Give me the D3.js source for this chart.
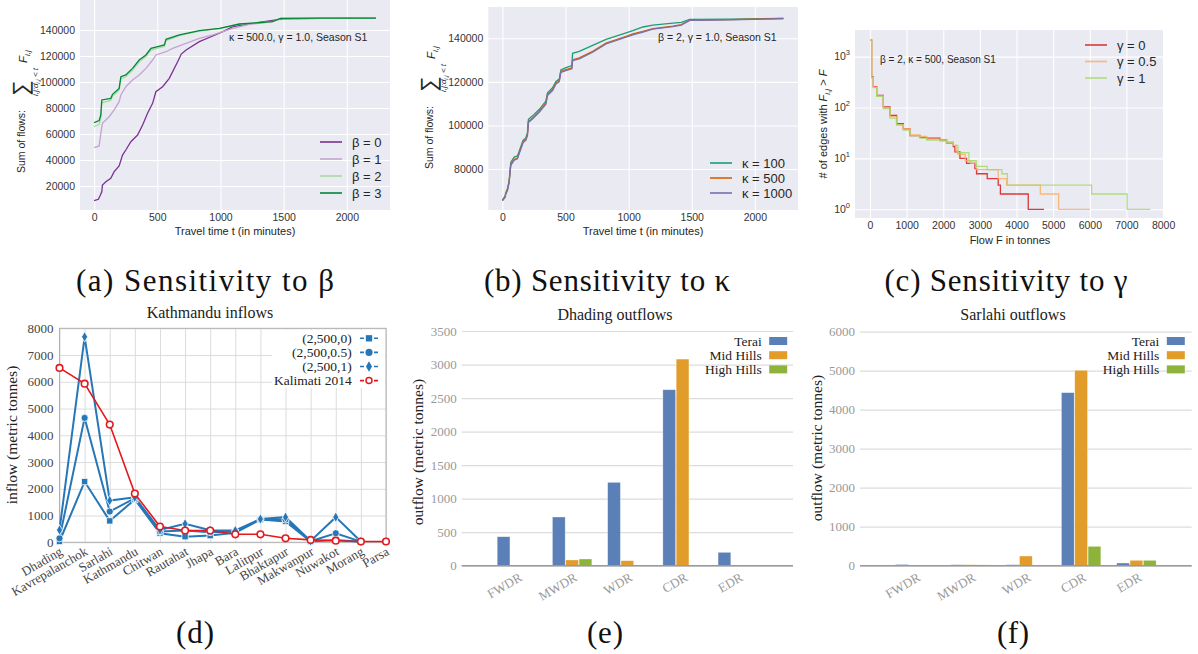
<!DOCTYPE html>
<html>
<head>
<meta charset="utf-8">
<script src="https://cdn.jsdelivr.net/npm/d3@7"></script>
<style>
body { margin: 0; background: #fff; }
svg { display: block; }
</style>
</head>
<body>
<svg id="fig" width="1198" height="654"></svg>
<script>
// ---- (a) sensitivity to beta: [travel time, cumulative flow]
var beta0 = [[0,8700],[34,9800],[50,13000],[61,15600],[66,20800],[93,23300],[132,25900],[159,31000],[198,35400],[225,43800],[251,47700],[291,54100],[344,59200],[384,66900],[423,75900],[463,83600],[489,92500],[542,96400],[595,102800],[661,115600],[690,121500],[728,124600],[833,131000],[939,135400],[1019,138700],[1098,142600],[1257,145100],[1494,148500],[1800,149000],[2230,149200]];
var beta1 = [[0,49500],[40,50800],[53,60500],[66,68200],[119,73300],[159,78500],[198,84900],[212,90000],[251,96400],[304,101500],[357,105400],[410,110500],[463,116900],[489,120800],[569,123300],[621,125900],[728,129700],[833,133600],[939,136200],[1098,141300],[1230,144400],[1410,146300],[1475,148800],[1800,149100],[2230,149200]];
var beta2 = [[0,65600],[40,67500],[53,72000],[61,84000],[132,85800],[146,89000],[198,93800],[212,102500],[251,104000],[304,109000],[357,115500],[410,119500],[450,124500],[503,126000],[556,127400],[569,131800],[675,135600],[833,139200],[992,141100],[1150,144500],[1410,146400],[1475,149000],[1800,149100],[2230,149200]];
var beta3 = [[0,68700],[40,70300],[53,74600],[61,86200],[132,87400],[146,90500],[198,95100],[212,104100],[251,105400],[304,110500],[357,116900],[410,120800],[450,125900],[503,127200],[556,128500],[569,132800],[675,136200],[833,139500],[992,141300],[1150,144600],[1410,146400],[1475,149000],[1800,149100],[2230,149200]];
var betaNames = ["β = 0", "β = 1", "β = 2", "β = 3"];

// ---- (b) sensitivity to kappa
var kappa100 = [[0,65800],[21,67500],[26,69000],[40,71000],[53,74500],[66,83000],[93,85500],[119,86000],[132,88000],[146,90300],[164,93300],[185,94200],[198,96500],[206,102800],[238,104400],[291,107300],[344,111200],[357,115000],[397,117300],[424,120200],[450,121300],[463,125500],[503,126500],[550,127500],[556,133100],[609,134000],[715,136800],[821,139500],[980,142500],[1033,143500],[1113,145200],[1192,146100],[1351,147000],[1417,147300],[1484,148700],[1802,148800],[2226,149200]];
var kappa500 = [[0,65600],[21,67200],[26,68700],[40,70500],[53,74000],[66,82000],[93,84500],[119,85000],[132,87300],[146,89500],[164,92600],[185,93400],[198,95700],[206,101800],[238,103400],[291,106400],[344,110200],[357,114100],[397,116400],[424,119400],[450,120500],[463,124800],[503,125600],[550,126400],[556,130200],[609,131000],[715,134000],[821,137800],[980,140900],[1033,142000],[1113,143200],[1192,144500],[1351,145600],[1417,146300],[1484,148300],[1802,148600],[2226,149100]];
var kappa1000 = [[0,65400],[21,67000],[26,68400],[40,70200],[53,73700],[66,81600],[93,84100],[119,84700],[132,87000],[146,89200],[164,92200],[185,93100],[198,95300],[206,101400],[238,103000],[291,106000],[344,109800],[357,113700],[397,116000],[424,119000],[450,120100],[463,124400],[503,125200],[550,126000],[556,129800],[609,130600],[715,133600],[821,137400],[980,140500],[1033,141600],[1113,142900],[1192,144200],[1351,145400],[1417,146100],[1484,148200],[1802,148500],[2226,149000]];
var kappaNames = ["κ = 100", "κ = 500", "κ = 1000"];

// ---- (c) sensitivity to gamma: [flow, # edges above]
var gamma0 = [[0,2100],[45,400],[91,258],[182,173],[364,103],[545,70],[727,48],[909,38],[1091,28],[1364,26],[1545,25],[1909,23],[2091,20],[2273,17],[2318,13.5],[2455,10],[2636,8],[2864,6.3],[2909,5],[3200,4],[3500,3],[3560,2],[4320,1],[4750,1]];
var gamma05 = [[0,2100],[45,390],[91,250],[182,170],[364,98],[545,66],[727,46],[909,38],[1091,29],[1364,27],[1545,24],[1909,22],[2091,20],[2273,18],[2350,14],[2400,12],[2600,9],[2750,8],[2900,6],[3450,6],[3500,4],[3730,3],[4650,2],[5150,1],[6000,1]];
var gamma1 = [[0,2100],[45,380],[91,245],[182,165],[364,95],[545,62],[727,45],[909,36],[1091,28],[1364,25],[1545,23],[1909,23],[2091,21],[2273,18],[2400,13],[2700,9],[2900,7],[3200,6],[3600,5],[3750,3],[6050,2],[7020,1],[7650,1]];
var gammaNames = ["γ = 0", "γ = 0.5", "γ = 1"];

// ---- (d) Kathmandu inflows
var districts = ["Dhading","Kavrepalanchok","Sarlahi","Kathmandu","Chitwan","Rautahat","Jhapa","Bara","Lalitpur","Bhaktapur","Makwanpur","Nuwakot","Morang","Parsa"];
var inflowG0  = [30, 2270, 800, 1600, 340, 210, 250, 360, 850, 780, 30, 90, 20, null];
var inflowG05 = [150, 4650, 1150, 1650, 400, 440, 380, 400, 860, 850, 40, 340, 25, null];
var inflowG1  = [460, 7680, 1560, 1680, 460, 690, 450, 440, 870, 940, 50, 940, 30, null];
var kalimati  = [6520, 5930, 4400, 1820, 590, 440, 440, 300, 300, 150, 90, 60, 30, 30];
var inflowNames = ["(2,500,0)", "(2,500,0.5)", "(2,500,1)", "Kalimati 2014"];

// ---- (e), (f) outflows by region
var regions = ["FWDR","MWDR","WDR","CDR","EDR"];
var zones = ["Terai","Mid Hills","High Hills"];
var dhadingTerai = [432, 726, 1243, 2624, 199];
var dhadingMid   = [0, 85, 75, 3081, 10];
var dhadingHigh  = [0, 100, 0, 10, 10];
var sarlahiTerai = [30, 25, 25, 4437, 68];
var sarlahiMid   = [0, 25, 248, 5010, 137];
var sarlahiHigh  = [0, 20, 0, 496, 137];

var SANS = '"Liberation Sans", Arial, sans-serif';
var SERIF = '"Liberation Serif", "DejaVu Serif", serif';
var svg = d3.select("#fig");

// seaborn style frame: grey bg, white grid, tick labels
function sbAxes(xs, ys, xTicks, yTicks, yFmt) {
    var x0 = xs.range()[0], x1 = xs.range()[1], yb = ys.range()[0], yt = ys.range()[1];
    svg.append("rect").attr("x", x0).attr("y", yt)
        .attr("width", x1 - x0).attr("height", yb - yt).attr("fill", "#eaeaf2");
    var gx = svg.append("g").attr("transform", "translate(0," + yb + ")")
        .call(d3.axisBottom(xs).tickValues(xTicks).tickSize(-(yb - yt)).tickPadding(4).tickFormat(d3.format("d")));
    var gy = svg.append("g").attr("transform", "translate(" + x0 + ",0)")
        .call(d3.axisLeft(ys).tickValues(yTicks).tickSize(-(x1 - x0)).tickPadding(5).tickFormat(yFmt));
    [gx, gy].forEach(function(g) {
        g.select(".domain").remove();
        g.selectAll("line").attr("stroke", "#fff").attr("stroke-width", 1.1);
        g.selectAll("text").attr("fill", "#333").style("font-family", SANS).style("font-size", "10.5px");
    });
    return gy;
}

function drawLines(xs, ys, list, colors, curve, opacity) {
    var line = d3.line().x(function(d) { return xs(d[0]); }).y(function(d) { return ys(d[1]); })
        .curve(curve);
    list.forEach(function(s, i) {
        svg.append("path").attr("d", line(s)).attr("fill", "none")
            .attr("stroke", colors[i]).attr("stroke-width", 1.3).attr("stroke-opacity", opacity || 1);
    });
}

function sbLegend(names, colors, x, y0, dy, opacity) {
    names.forEach(function(n, i) {
        var y = y0 + i * dy;
        svg.append("line").attr("x1", x).attr("x2", x + 22).attr("y1", y).attr("y2", y)
            .attr("stroke", colors[i]).attr("stroke-width", 1.6).attr("stroke-opacity", opacity || 1);
        svg.append("text").attr("x", x + 32).attr("y", y + 4.5).attr("fill", "#262626")
            .style("font-family", SANS).style("font-size", "13px").text(n);
    });
}

function sbText(x, y, s, size, anchor) {
    return svg.append("text").attr("x", x).attr("y", y).attr("fill", "#262626")
        .attr("text-anchor", anchor || "start")
        .style("font-family", SANS).style("font-size", (size || 10.5) + "px").text(s);
}

function sumLabel(cx, cy) {
    var g = svg.append("g").attr("transform", "translate(" + cx + "," + cy + ") rotate(-90)")
        .style("font-family", SANS).attr("fill", "#262626");
    g.append("text").attr("x", 15).attr("y", 5).attr("text-anchor", "end").style("font-size", "10.5px").text("Sum of flows:");
    g.append("text").attr("x", 37).attr("y", 8).attr("text-anchor", "middle").style("font-size", "22px").text("∑");
    var s = g.append("text").attr("x", 43).attr("y", 18).attr("text-anchor", "middle")
        .style("font-size", "8px").style("font-style", "italic");
    s.append("tspan").text("i,j:d");
    s.append("tspan").attr("dy", 2).style("font-size", "6px").text("i,j");
    s.append("tspan").attr("dy", -2).text(" < t");
    var f = g.append("text").attr("x", 62).attr("y", 7).style("font-size", "11.5px").style("font-style", "italic");
    f.append("tspan").text("F");
    f.append("tspan").attr("dy", 3).style("font-size", "8px").text("i,j");
}

function caption(x, y, s, len) {
    svg.append("text").attr("x", x).attr("y", y).attr("text-anchor", "middle")
        .attr("textLength", len).attr("lengthAdjust", "spacing")
        .attr("fill", "#111").style("font-family", SERIF).style("font-size", "31px").text(s);
}

var kFmt = d3.format("d");

// ================= (a) =================
var ax = d3.scaleLinear().domain([-111.5, 2341.5]).range([80, 390]);
var ay = d3.scaleLinear().domain([1538, 163077]).range([210, 0]);
sbAxes(ax, ay, [0, 500, 1000, 1500, 2000], d3.range(20000, 140001, 20000), kFmt);
var betaColors = ["#7b3294", "#c2a5cf", "#a6dba0", "#008837"];
drawLines(ax, ay, [beta0, beta1, beta2, beta3], betaColors, d3.curveLinear);
sbLegend(betaNames, betaColors, 320, 142, 17);
sbText(229, 41, "κ = 500.0, γ = 1.0, Season S1", 10.5);
sbText(235, 235, "Travel time t (in minutes)", 11, "middle");
sumLabel(20, 125);
caption(205, 291, "(a) Sensitivity to β", 258);

// ================= (b) =================
var bx = d3.scaleLinear().domain([-112, 2342]).range([488.3, 798]);
var by = d3.scaleLinear().domain([61176, 154381]).range([210, 7]);
sbAxes(bx, by, [0, 500, 1000, 1500, 2000], [80000, 100000, 120000, 140000], kFmt);
var kappaColors = ["#1b9e77", "#d95f02", "#7570b3"];
drawLines(bx, by, [kappa100, kappa500, kappa1000], kappaColors, d3.curveLinear);
sbLegend(kappaNames, kappaColors, 710, 163, 15);
sbText(658, 41, "β = 2, γ = 1.0, Season S1", 10.5);
sbText(643, 235, "Travel time t (in minutes)", 11, "middle");
sumLabel(428, 121);
caption(607, 291, "(b) Sensitivity to κ", 246);

// ================= (c) =================
var cx = d3.scaleLinear().domain([-409, 7998]).range([855, 1163]);
var cy = d3.scaleLog().domain([0.675, 3335]).range([218, 30]);
var cyAxis = sbAxes(cx, cy, d3.range(0, 8001, 1000), [1, 10, 100, 1000], function() { return ""; });
cyAxis.selectAll(".tick").each(function(d) {
    var t = d3.select(this).select("text");
    t.append("tspan").text("10");
    t.append("tspan").attr("dy", -5).style("font-size", "7.5px").text(Math.round(Math.log10(d)));
});
var gammaColors = ["#d7191c", "#fdae61", "#a6d96a"];
drawLines(cx, cy, [gamma0, gamma05, gamma1], gammaColors, d3.curveStepAfter, 0.85);
sbLegend(gammaNames, gammaColors, 1085, 45, 16.5, 0.85);
sbText(880, 63, "β = 2, κ = 500, Season S1", 10);
sbText(1010, 244, "Flow F in tonnes", 11, "middle");
var cl = svg.append("text").attr("transform", "translate(827,124) rotate(-90)").attr("text-anchor", "middle")
    .attr("fill", "#262626").style("font-family", SANS).style("font-size", "11px");
cl.append("tspan").text("# of edges with ");
cl.append("tspan").style("font-style", "italic").text("F");
cl.append("tspan").attr("dy", 3).style("font-size", "8px").style("font-style", "italic").text("i,j");
cl.append("tspan").attr("dy", -3).text(" > ");
cl.append("tspan").style("font-style", "italic").text("F");
caption(1006, 291, "(c) Sensitivity to γ", 243);

// ================= (d) =================
var dx = d3.scalePoint().domain(districts).range([59.5, 386]);
var dy = d3.scaleLinear().domain([0, 8000]).range([542.3, 328.3]);
svg.append("g").attr("transform", "translate(0,542.3)")
    .call(d3.axisBottom(dx).tickSize(-214).tickFormat(""))
    .call(function(g) { g.select(".domain").remove(); g.selectAll("line").attr("stroke", "#dcdcdc"); });
var dyAxis = svg.append("g").attr("transform", "translate(59.5,0)")
    .call(d3.axisLeft(dy).tickValues(d3.range(0, 8001, 1000)).tickSize(-326.5).tickPadding(6).tickFormat(d3.format("d")));
dyAxis.select(".domain").remove();
dyAxis.selectAll("line").attr("stroke", "#dcdcdc");
dyAxis.selectAll("text").attr("fill", "#444").style("font-family", SERIF).style("font-size", "13px");
svg.append("rect").attr("x", 59.5).attr("y", 328.3).attr("width", 326.5).attr("height", 214)
    .attr("fill", "none").attr("stroke", "#b0b0b0");
svg.append("g").selectAll("text").data(districts).enter().append("text")
    .attr("transform", function(d) { return "translate(" + (dx(d) + 4) + ",554) rotate(-30)"; })
    .attr("text-anchor", "end").attr("fill", "#444")
    .style("font-family", SERIF).style("font-size", "13px").text(function(d) { return d; });

var blue = "#2677b8", red = "#e3191e";
var dline = d3.line().defined(function(d) { return d != null; })
    .x(function(d, i) { return dx(districts[i]); }).y(function(d) { return dy(d); });
var blueSeries = [inflowG0, inflowG05, inflowG1];
var blueSymbols = [d3.symbol().type(d3.symbolSquare).size(40),
                   d3.symbol().type(d3.symbolCircle).size(40),
                   d3.symbol().type(d3.symbolDiamond).size(32)];
blueSeries.forEach(function(s) {
    svg.append("path").attr("d", dline(s)).attr("fill", "none").attr("stroke", blue).attr("stroke-width", 2);
});
blueSeries.forEach(function(s, k) {
    var pts = s.map(function(v, i) { return { v: v, name: districts[i] }; })
        .filter(function(p) { return p.v != null; });
    svg.append("g").selectAll("path").data(pts).enter()
        .append("path").attr("d", blueSymbols[k])
        .attr("transform", function(p) { return "translate(" + dx(p.name) + "," + dy(p.v) + ")"; })
        .attr("fill", blue).attr("stroke", "#fff").attr("stroke-width", 0.8);
});
svg.append("path").attr("d", dline(kalimati)).attr("fill", "none").attr("stroke", red).attr("stroke-width", 1.6);
svg.append("g").selectAll("circle").data(kalimati).enter().append("circle")
    .attr("cx", function(d, i) { return dx(districts[i]); }).attr("cy", function(d) { return dy(d); })
    .attr("r", 3.3).attr("fill", "#fff").attr("stroke", red).attr("stroke-width", 1.6);

// legend (d)
svg.append("rect").attr("x", 272).attr("y", 330).attr("width", 113).attr("height", 58).attr("fill", "#fff");
inflowNames.forEach(function(n, i) {
    var y = 338.3 + i * 14.1;
    svg.append("text").attr("x", 351.7).attr("y", y + 4.5).attr("text-anchor", "end").attr("fill", "#222")
        .style("font-family", SERIF).style("font-size", "13.5px").text(n);
    var c = i < 3 ? blue : red;
    svg.append("line").attr("x1", 360).attr("x2", 378).attr("y1", y).attr("y2", y)
        .attr("stroke", c).attr("stroke-width", 1.6).attr("stroke-dasharray", "4,10");
    if (i < 3) {
        svg.append("path").attr("d", blueSymbols[i]).attr("transform", "translate(369," + y + ")").attr("fill", blue);
    } else {
        svg.append("circle").attr("cx", 369).attr("cy", y).attr("r", 3).attr("fill", "#fff")
            .attr("stroke", red).attr("stroke-width", 1.5);
    }
});
svg.append("text").attr("x", 210).attr("y", 318).attr("text-anchor", "middle").attr("fill", "#222")
    .style("font-family", SERIF).style("font-size", "16px").text("Kathmandu inflows");
svg.append("text").attr("transform", "translate(17,435) rotate(-90)").attr("text-anchor", "middle").attr("fill", "#222")
    .style("font-family", SERIF).style("font-size", "15.5px").text("inflow (metric tonnes)");
caption(195, 643, "(d)", 38);

// ================= (e), (f) =================
var zoneColors = ["#5b80b7", "#e29c29", "#8db33a"];
function barPanel(o) {
    var x = d3.scaleLinear().domain([-1, 5]).range([o.left, o.right]);
    var y = d3.scaleLinear().domain([0, o.max]).range([565.7, o.top]);
    var inner = d3.scaleBand().domain(zones).range([-20, 20]);
    var ga = svg.append("g").attr("transform", "translate(" + o.left + ",0)")
        .call(d3.axisLeft(y).tickValues(o.ticks).tickSize(-(o.right - o.left)).tickPadding(5).tickFormat(d3.format("d")));
    ga.select(".domain").remove();
    ga.selectAll("line").attr("stroke", "#dcdcdc").attr("stroke-width", 1.2);
    ga.selectAll("text").attr("fill", "#999").style("font-family", SERIF).style("font-size", "13px");
    [o.terai, o.mid, o.high].forEach(function(vals, si) {
        svg.append("g").selectAll("rect").data(vals).enter().append("rect")
            .attr("x", function(d, i) { return x(i) + inner(zones[si]) + 0.3; })
            .attr("width", inner.bandwidth() - 0.6)
            .attr("y", function(d) { return y(d); })
            .attr("height", function(d) { return y(0) - y(d); })
            .attr("fill", zoneColors[si]).attr("stroke", "#fff").attr("stroke-opacity", 0.5).attr("stroke-width", 0.6);
    });
    svg.append("line").attr("x1", o.left).attr("x2", o.right).attr("y1", y(0)).attr("y2", y(0))
        .attr("stroke", "#999").attr("stroke-width", 1.4);
    svg.append("g").selectAll("text").data(regions).enter().append("text")
        .attr("transform", function(d, i) { return "translate(" + (x(i) + 6) + ",580) rotate(-30)"; })
        .attr("text-anchor", "end").attr("fill", "#999")
        .style("font-family", SERIF).style("font-size", "13px").text(function(d) { return d; });
    zones.forEach(function(z, i) {
        var yy = 341 + i * 14.2;
        svg.append("text").attr("x", o.legendX).attr("y", yy + 4.5).attr("text-anchor", "end").attr("fill", "#222")
            .style("font-family", SERIF).style("font-size", "13.5px").text(z);
        svg.append("rect").attr("x", o.legendX + 7.5).attr("y", yy - 4).attr("width", 18).attr("height", 8)
            .attr("fill", zoneColors[i]);
    });
    svg.append("text").attr("x", o.titleX).attr("y", 320).attr("text-anchor", "middle").attr("fill", "#222")
        .style("font-family", SERIF).style("font-size", "16px").text(o.title);
    svg.append("text").attr("transform", "translate(" + o.ylabX + "," + o.ylabY + ") rotate(-90)")
        .attr("text-anchor", "middle").attr("fill", "#222")
        .style("font-family", SERIF).style("font-size", "15.5px").text("outflow (metric tonnes)");
}

barPanel({ left: 461.7, right: 793, top: 331, max: 3500, ticks: d3.range(0, 3501, 500),
    terai: dhadingTerai, mid: dhadingMid, high: dhadingHigh,
    legendX: 761.7, title: "Dhading outflows", titleX: 615, ylabX: 423, ylabY: 452 });
caption(605, 643, "(e)", 36);

barPanel({ left: 860, right: 1191.7, top: 331.7, max: 6000, ticks: d3.range(0, 6001, 1000),
    terai: sarlahiTerai, mid: sarlahiMid, high: sarlahiHigh,
    legendX: 1159.3, title: "Sarlahi outflows", titleX: 1013, ylabX: 822, ylabY: 448 });
caption(1013, 643, "(f)", 32);
</script>
</body>
</html>
